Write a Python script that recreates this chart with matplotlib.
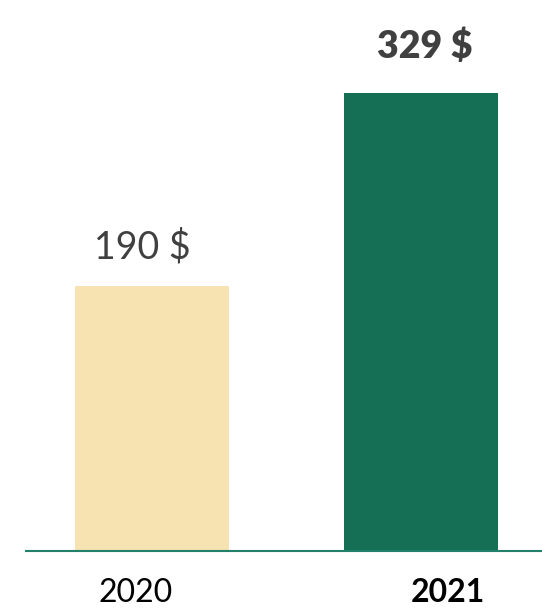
import matplotlib.pyplot as plt

years = ['2020', '2021']
values = [190, 329]
value_labels = ['190 $', '329 $']
bar_colors = ['#F7E3B1', '#146F54']
bold = [False, True]

plt.rcParams['font.family'] = ['Lato', 'DejaVu Sans']

fig = plt.figure(figsize=(5.42, 6.08), dpi=100)
ax = fig.add_axes([26 / 542, 57 / 608, 1 - 26 / 542, 487.6 / 608])

x = list(range(len(years)))
ax.bar(x, values, width=0.572, color=bar_colors)
ax.set_xlim(-0.468, 1.45)
ax.set_ylim(0, 350)

# value labels above bars
label_pad = [20, 25]
label_shift = [-7, 3]
for i, (v, lab) in enumerate(zip(values, value_labels)):
    ax.annotate(lab, (x[i], v), xytext=(label_shift[i], label_pad[i]),
                textcoords='offset points', ha='center', va='baseline',
                fontsize=27, color='#404040',
                fontweight='heavy' if bold[i] else 'normal', annotation_clip=False)

# year labels below baseline
year_shift = [-0.06, 0.10]
for i, yr in enumerate(years):
    ax.text(x[i] + year_shift[i], -0.105, yr, transform=ax.get_xaxis_transform(),
            ha='center', va='baseline', fontsize=23, color='black',
            fontweight='bold' if bold[i] else 'normal')

for s in ['top', 'right', 'left']:
    ax.spines[s].set_visible(False)
ax.spines['bottom'].set_color('#23806A')
ax.spines['bottom'].set_linewidth(1.5)
ax.set_xticks([])
ax.set_yticks([])

fig.savefig('out.png', dpi=100)
